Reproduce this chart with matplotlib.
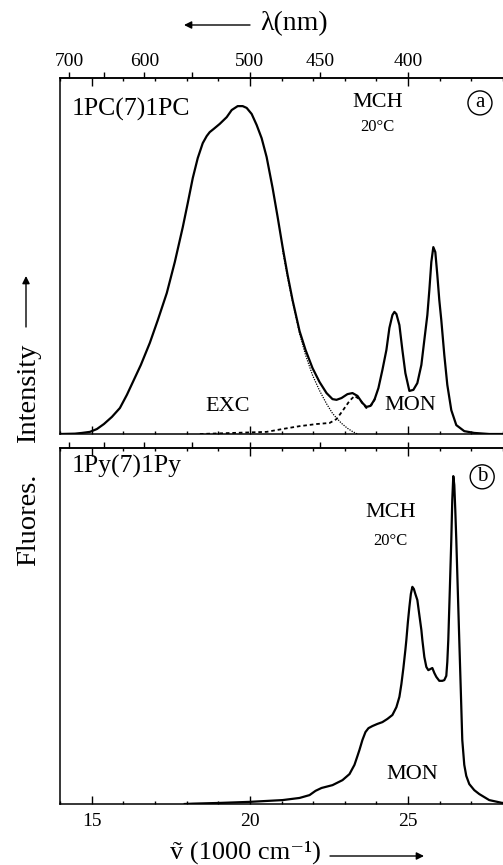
import numpy as np
import matplotlib.pyplot as plt
from matplotlib.patches import FancyArrowPatch
from matplotlib.ticker import FixedLocator, MultipleLocator, NullFormatter

plt.rcParams['font.family'] = ['Liberation Serif', 'DejaVu Serif']

# 1PC(7)1PC in MCH, 20 C : total emission (wavenumber in 1000 cm-1, intensity)
pc_wn = [14.000, 14.473, 14.694, 14.946, 15.167, 15.388, 15.640, 15.893, 16.114, 16.303,
         16.555, 16.839, 17.091, 17.375, 17.628, 17.880, 18.038, 18.196, 18.353, 18.511,
         18.637, 18.732, 18.858, 19.047, 19.268, 19.426, 19.615, 19.773, 19.899, 20.057,
         20.215, 20.372, 20.530, 20.719, 20.877, 21.035, 21.192, 21.350, 21.571, 21.760,
         21.981, 22.202, 22.423, 22.612, 22.738, 22.896, 23.085, 23.243, 23.401, 23.558,
         23.685, 23.811, 23.937, 24.063, 24.189, 24.315, 24.410, 24.505, 24.568, 24.631,
         24.726, 24.820, 24.915, 25.041, 25.167, 25.293, 25.420, 25.514, 25.609, 25.672,
         25.735, 25.798, 25.861, 25.924, 25.987, 26.050, 26.145, 26.240, 26.366, 26.524,
         26.776, 27.091, 27.565, 27.975]
pc_total = [0.000, 0.001, 0.003, 0.006, 0.014, 0.028, 0.048, 0.073, 0.110, 0.146,
            0.194, 0.256, 0.320, 0.396, 0.483, 0.581, 0.649, 0.719, 0.775, 0.817,
            0.837, 0.848, 0.857, 0.871, 0.890, 0.910, 0.921, 0.921, 0.916, 0.899,
            0.868, 0.831, 0.778, 0.691, 0.610, 0.525, 0.447, 0.376, 0.289, 0.236,
            0.185, 0.146, 0.115, 0.098, 0.096, 0.101, 0.112, 0.115, 0.107, 0.087,
            0.076, 0.079, 0.096, 0.129, 0.180, 0.236, 0.298, 0.334, 0.343, 0.337,
            0.306, 0.236, 0.171, 0.121, 0.124, 0.143, 0.194, 0.264, 0.334, 0.404,
            0.483, 0.525, 0.511, 0.447, 0.376, 0.320, 0.222, 0.138, 0.067, 0.025,
            0.008, 0.003, 0.000, 0.000]

# excimer component (dotted)
pc_exc_wn = [21.035, 21.192, 21.350, 21.571, 21.760, 21.981, 22.202, 22.423, 22.612,
             22.738, 22.896, 23.085, 23.243, 23.401]
pc_exc = [0.515, 0.440, 0.372, 0.282, 0.222, 0.165, 0.122, 0.085, 0.058,
          0.045, 0.030, 0.016, 0.007, 0.000]

# monomer component (dashed)
pc_mon_wn = [18.42, 19.46, 20.53, 21.03, 21.57, 22.11, 22.52, 22.74, 22.93, 23.15,
             23.31, 23.46, 23.68, 23.84, 24.00]
pc_mon = [0.000, 0.003, 0.006, 0.014, 0.022, 0.028, 0.031, 0.042, 0.065, 0.093,
          0.107, 0.098, 0.073, 0.081, 0.107]

# 1Py(7)1Py in MCH, 20 C
py_wn = [17.943, 18.196, 19.047, 19.994, 21.035, 21.571, 21.886, 22.076, 22.265, 22.612,
         22.927, 23.148, 23.306, 23.401, 23.464, 23.558, 23.653, 23.748, 23.874, 24.032,
         24.189, 24.347, 24.505, 24.631, 24.726, 24.789, 24.852, 24.915, 24.946, 24.994,
         25.041, 25.088, 25.136, 25.183, 25.230, 25.293, 25.356, 25.420, 25.451, 25.514,
         25.577, 25.640, 25.703, 25.767, 25.830, 25.893, 25.987, 26.082, 26.145, 26.208,
         26.240, 26.271, 26.319, 26.366, 26.397, 26.429, 26.461, 26.492, 26.524, 26.571,
         26.618, 26.666, 26.713, 26.776, 26.839, 26.934, 27.091, 27.249, 27.565, 27.975]
py_total = [0.000, 0.001, 0.003, 0.006, 0.011, 0.017, 0.025, 0.037, 0.045, 0.053,
            0.067, 0.084, 0.110, 0.135, 0.152, 0.180, 0.202, 0.213, 0.219, 0.225,
            0.230, 0.239, 0.250, 0.272, 0.301, 0.337, 0.382, 0.433, 0.461, 0.511,
            0.553, 0.590, 0.610, 0.604, 0.590, 0.573, 0.531, 0.489, 0.461, 0.413,
            0.385, 0.376, 0.379, 0.382, 0.368, 0.357, 0.346, 0.346, 0.348, 0.360,
            0.399, 0.461, 0.601, 0.742, 0.854, 0.921, 0.896, 0.826, 0.742, 0.601,
            0.461, 0.320, 0.180, 0.110, 0.079, 0.056, 0.039, 0.028, 0.011, 0.003]

wl_major = [700, 600, 500, 450, 400]
wl_minor = [650, 550]


def wn_to_wl(x):
    x = np.asarray(x, dtype=float)
    with np.errstate(divide='ignore'):
        return 1e4 / x


fig = plt.figure(figsize=(5.03, 8.65), dpi=100)
ax_a = fig.add_axes([60 / 503, 1 - 434 / 865, 443 / 503, 356 / 865])
ax_b = fig.add_axes([60 / 503, 1 - 804 / 865, 443 / 503, 356 / 865])

for ax in (ax_a, ax_b):
    ax.set_xlim(14, 28)
    ax.set_ylim(0, 1)
    ax.set_yticks([])
    ax.spines['right'].set_visible(False)
    for s in ('left', 'top', 'bottom'):
        ax.spines[s].set_linewidth(1.1)
    ax.xaxis.set_major_locator(MultipleLocator(5))
    ax.xaxis.set_minor_locator(MultipleLocator(1))
    ax.tick_params(which='both', direction='in', top=True, bottom=True,
                   labeltop=False, width=1, labelsize=14, pad=6.5)
    ax.tick_params(which='major', length=5.5)
    ax.tick_params(which='minor', length=2.5)

    sec = ax.secondary_xaxis('top', functions=(wn_to_wl, wn_to_wl))
    sec.xaxis.set_major_locator(FixedLocator(wl_major))
    sec.xaxis.set_minor_locator(FixedLocator(wl_minor))
    sec.tick_params(which='both', direction='out', length=4, width=1,
                    labelsize=14, pad=2.0)
    sec.spines['top'].set_linewidth(1.1)
    if ax is ax_b:
        sec.xaxis.set_major_formatter(NullFormatter())

ax_a.tick_params(labelbottom=False)

# panel a
ax_a.plot(pc_mon_wn, pc_mon, color='k', lw=1.3, ls=(0, (2, 1.6)), zorder=2)
ax_a.plot(pc_exc_wn, pc_exc, color='k', lw=0.9, ls=(0, (1, 1)), zorder=2)
ax_a.plot(pc_wn, pc_total, color='k', lw=1.6, zorder=3)

ax_a.text(0.027, 0.913, '1PC(7)1PC', transform=ax_a.transAxes, fontsize=18.5,
          ha='left', va='center')
ax_a.text(0.718, 0.930, 'MCH', transform=ax_a.transAxes, fontsize=16,
          ha='center', va='center')
ax_a.text(0.716, 0.862, '20°C', transform=ax_a.transAxes, fontsize=12,
          ha='center', va='center')
ax_a.text(0.379, 0.076, 'EXC', transform=ax_a.transAxes, fontsize=16,
          ha='center', va='center')
ax_a.text(0.790, 0.079, 'MON', transform=ax_a.transAxes, fontsize=16,
          ha='center', va='center')
ax_a.text(0.948, 0.930, 'a', transform=ax_a.transAxes, fontsize=15,
          ha='center', va='center',
          bbox=dict(boxstyle='circle,pad=0.12', fc='none', ec='k', lw=1))

# panel b
ax_b.plot(py_wn, py_total, color='k', lw=1.6, zorder=3)

ax_b.text(0.027, 0.949, '1Py(7)1Py', transform=ax_b.transAxes, fontsize=18.5,
          ha='left', va='center')
ax_b.text(0.747, 0.820, 'MCH', transform=ax_b.transAxes, fontsize=16,
          ha='center', va='center')
ax_b.text(0.745, 0.739, '20°C', transform=ax_b.transAxes, fontsize=12,
          ha='center', va='center')
ax_b.text(0.795, 0.084, 'MON', transform=ax_b.transAxes, fontsize=16,
          ha='center', va='center')
ax_b.text(0.953, 0.919, 'b', transform=ax_b.transAxes, fontsize=15,
          ha='center', va='center',
          bbox=dict(boxstyle='circle,pad=0.12', fc='none', ec='k', lw=1))


def fig_arrow(x0, y0, x1, y1):
    arr = FancyArrowPatch((x0 / 503, 1 - y0 / 865), (x1 / 503, 1 - y1 / 865),
                          transform=fig.transFigure, arrowstyle='-|>',
                          mutation_scale=11, lw=1, color='k',
                          shrinkA=0, shrinkB=0)
    fig.add_artist(arr)


# axis titles with direction arrows
fig.text(260 / 503, 1 - 24 / 865, 'λ(nm)', fontsize=20, ha='left', va='center')
fig_arrow(250, 25, 184, 25)

# y title, the two words spread along the left margin
fig.text(29 / 503, 1 - 520 / 865, 'Fluores.', fontsize=20.5,
         rotation=90, ha='center', va='center')
fig.text(29 / 503, 1 - 393 / 865, 'Intensity', fontsize=20.5,
         rotation=90, ha='center', va='center')
fig_arrow(26, 327, 26, 276)

fig.text(170 / 503, 6 / 865, 'ṽ (1000 cm⁻¹)', fontsize=19, ha='left',
         va='baseline')
fig_arrow(330, 856, 424, 856)

fig.savefig('out.png', dpi=100)
